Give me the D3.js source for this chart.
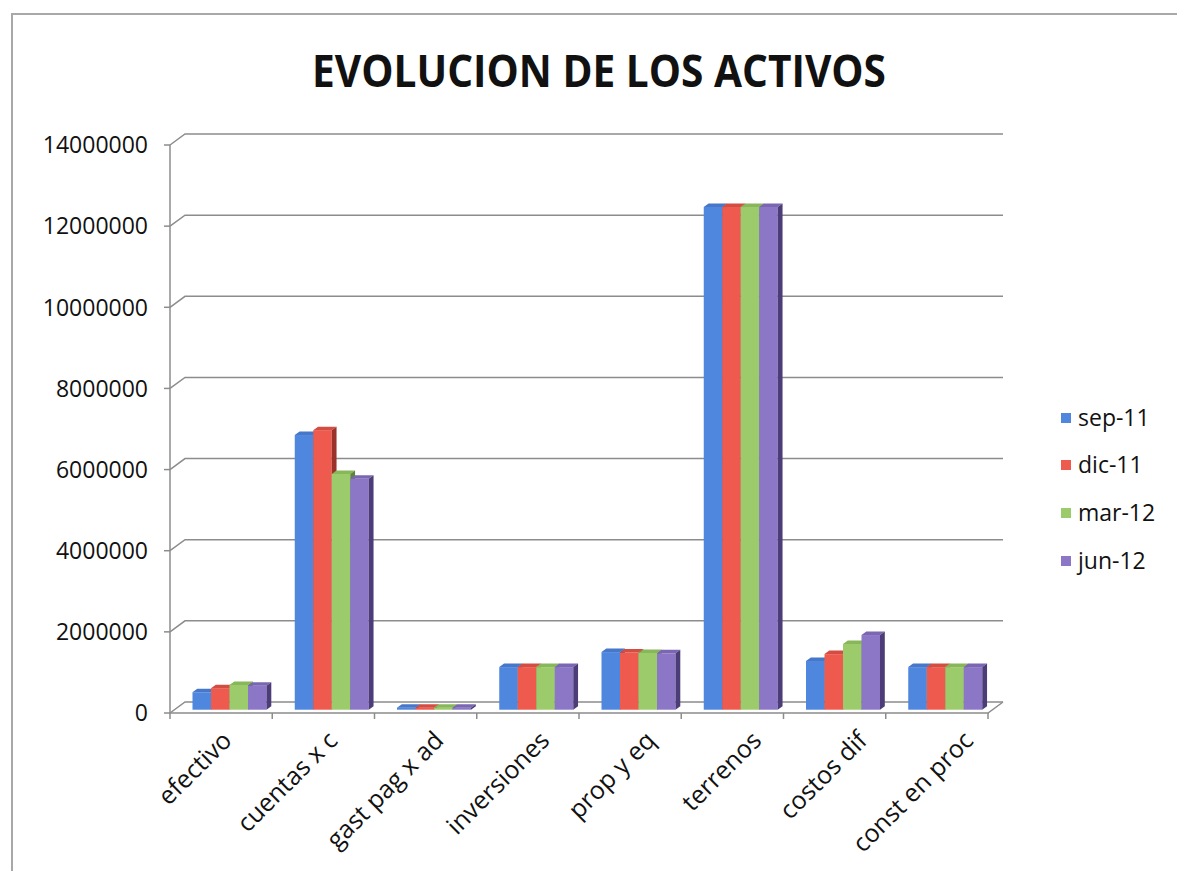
<!DOCTYPE html>
<html>
<head>
<meta charset="utf-8">
<script src="https://cdn.jsdelivr.net/npm/d3@7"></script>
<style>
  body { margin: 0; background: #fff; }
  text { font-family: "Open Sans", "DejaVu Sans", sans-serif; fill: #111; }
</style>
</head>
<body>
<svg id="chart" width="1177" height="871"></svg>
<script>
var categories = ['efectivo', 'cuentas x c', 'gast pag x ad', 'inversiones', 'prop y eq', 'terrenos', 'costos dif', 'const en proc']
var seriesNames = ['sep-11', 'dic-11', 'mar-12', 'jun-12']
var sep11 = [430000, 6770000, 50000, 1050000, 1420000, 12390000, 1200000, 1050000]
var dic11 = [530000, 6890000, 50000, 1050000, 1410000, 12390000, 1370000, 1050000]
var mar12 = [610000, 5810000, 50000, 1050000, 1400000, 12390000, 1620000, 1050000]
var jun12 = [590000, 5690000, 50000, 1050000, 1390000, 12390000, 1840000, 1050000]
var yTicks = [0, 2000000, 4000000, 6000000, 8000000, 10000000, 12000000, 14000000]

var series = [sep11, dic11, mar12, jun12]
var frontColors = ['#4f86de', '#ee5a4d', '#9ccb6b', '#8b77c6']
var topColors = ['#4677c8', '#d44d43', '#88b75a', '#7a66b2']
var sideColors = ['#2d5596', '#9a3229', '#5e843b', '#4c3d78']

var svg = d3.select('#chart')

// page border
svg.append('path')
  .attr('d', 'M12,871 L12,14 L1177,14')
  .attr('fill', 'none')
  .attr('stroke', '#a8a8a8')
  .attr('stroke-width', 2)

svg.append('text')
  .attr('x', 599)
  .attr('y', 87)
  .attr('text-anchor', 'middle')
  .attr('textLength', 574)
  .attr('lengthAdjust', 'spacingAndGlyphs')
  .style('font-size', '45px')
  .style('font-weight', 'bold')
  .text('EVOLUCION DE LOS ACTIVOS')

var plotLeft = 170, plotRight = 988, plotBottom = 713, plotTop = 145
// depth offset of the back wall
var DX = 15, DY = -11

var x = d3.scaleBand().domain(categories).range([plotLeft, plotRight])
var y = d3.scaleLinear().domain([0, 14000000]).range([plotBottom, plotTop])

// gridlines on back wall with diagonal on the left wall
var grid = svg.append('g').attr('class', 'grid')
yTicks.forEach(function(t) {
  grid.append('path')
    .attr('d', 'M' + plotLeft + ',' + y(t) + ' L' + (plotLeft + DX) + ',' + (y(t) + DY) + ' L' + (plotRight + DX) + ',' + (y(t) + DY))
    .attr('fill', 'none')
    .attr('stroke', '#8c8c8c')
    .attr('stroke-width', 1.5)
})

// floor front edge + right diagonal
svg.append('path')
  .attr('d', 'M' + plotLeft + ',' + plotBottom + ' L' + plotRight + ',' + plotBottom + ' L' + (plotRight + DX) + ',' + (plotBottom + DY))
  .attr('fill', 'none')
  .attr('stroke', '#8c8c8c')
  .attr('stroke-width', 1.5)

// y axis
svg.append('line')
  .attr('x1', plotLeft).attr('x2', plotLeft)
  .attr('y1', plotTop).attr('y2', plotBottom)
  .attr('stroke', '#8c8c8c')
  .attr('stroke-width', 1.5)

var yAxis = svg.append('g')
yAxis.selectAll('line')
  .data(yTicks)
  .enter().append('line')
  .attr('x1', plotLeft - 6).attr('x2', plotLeft)
  .attr('y1', function(d) { return y(d) }).attr('y2', function(d) { return y(d) })
  .attr('stroke', '#8c8c8c')
  .attr('stroke-width', 1.5)

yAxis.selectAll('text')
  .data(yTicks)
  .enter().append('text')
  .attr('x', 148)
  .attr('y', function(d) { return y(d) })
  .attr('dy', '0.36em')
  .attr('text-anchor', 'end')
  .style('font-size', '23px')
  .text(function(d) { return d })

// x ticks at category boundaries
var bounds = categories.map(function(c) { return x(c) }).concat([plotRight])
svg.append('g').selectAll('line')
  .data(bounds)
  .enter().append('line')
  .attr('x1', function(d) { return d }).attr('x2', function(d) { return d })
  .attr('y1', plotBottom).attr('y2', plotBottom + 6)
  .attr('stroke', '#8c8c8c')
  .attr('stroke-width', 1.5)

// x labels rotated (label row spreads slightly wider than the floor)
svg.append('g').selectAll('text')
  .data(categories)
  .enter().append('text')
  .attr('text-anchor', 'end')
  .attr('transform', function(d, i) {
    return 'translate(' + (x(d) + x.bandwidth() / 2 + 12 + i * 3.7) + ',' + 742 + ') rotate(-45)'
  })
  .style('font-size', '25px')
  .text(function(d) { return d })

// 3D bars
var barW = 18.5, pad = 18
var f0 = 0.3, f1 = 0.62   // depth fractions of bar front/back
var fx = DX * f0, fy = DY * f0
var sx = DX * (f1 - f0), sy = DY * (f1 - f0)

var bars = svg.append('g').attr('class', 'bars')
categories.forEach(function(c, i) {
  series.forEach(function(s, j) {
    var x0 = x(c) + pad + j * barW + fx
    var x1 = x0 + barW
    var yt = y(s[i]) + fy
    var yb = y(0) + fy
    var g = bars.append('g')
    g.append('rect')
      .attr('x', x0).attr('y', yt)
      .attr('width', barW).attr('height', yb - yt)
      .attr('fill', frontColors[j])
    g.append('path')
      .attr('d', 'M' + x0 + ',' + yt + ' L' + (x0 + sx) + ',' + (yt + sy) + ' L' + (x1 + sx) + ',' + (yt + sy) + ' L' + x1 + ',' + yt + 'Z')
      .attr('fill', topColors[j])
    g.append('path')
      .attr('d', 'M' + x1 + ',' + yt + ' L' + (x1 + sx) + ',' + (yt + sy) + ' L' + (x1 + sx) + ',' + (yb + sy) + ' L' + x1 + ',' + yb + 'Z')
      .attr('fill', sideColors[j])
  })
})

// legend
var legendY = [418, 465, 513, 561]
var legend = svg.append('g').selectAll('g')
  .data(seriesNames)
  .enter().append('g')
  .attr('transform', function(d, i) { return 'translate(1061,' + legendY[i] + ')' })

legend.append('rect')
  .attr('x', 0).attr('y', -5)
  .attr('width', 10).attr('height', 10)
  .attr('fill', function(d, i) { return frontColors[i] })

legend.append('text')
  .attr('x', 17)
  .attr('dy', '0.36em')
  .style('font-size', '23px')
  .text(function(d) { return d })
</script>
</body>
</html>
